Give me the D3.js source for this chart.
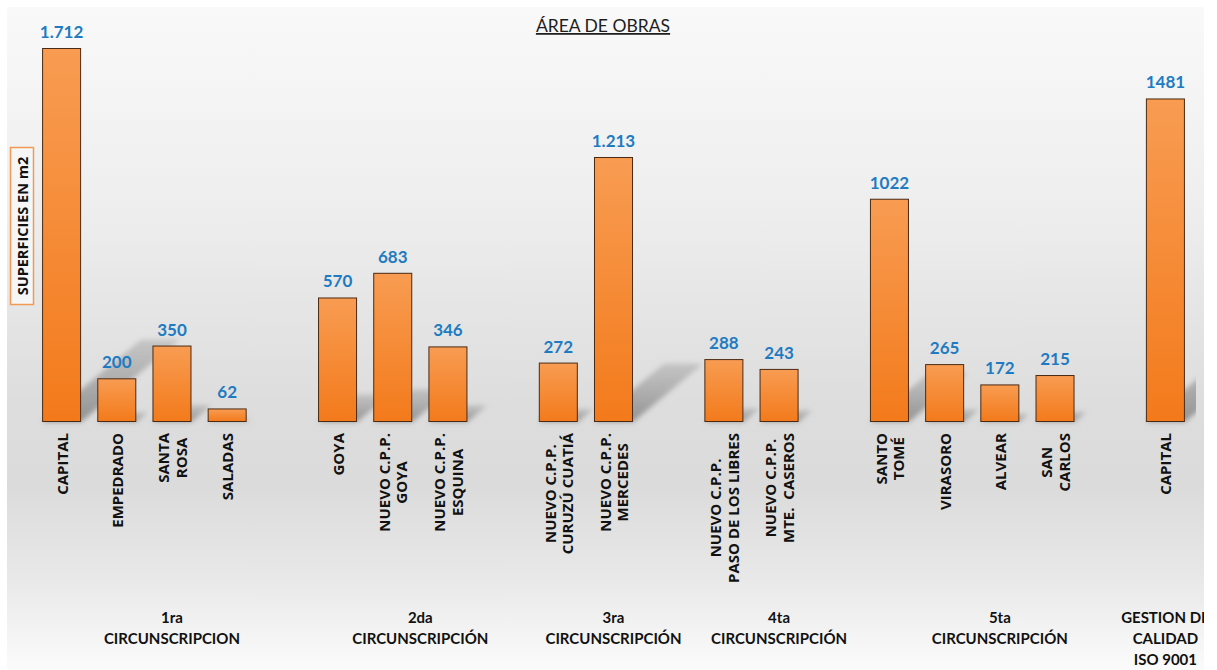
<!DOCTYPE html>
<html>
<head>
<meta charset="utf-8">
<script src="https://cdn.jsdelivr.net/npm/d3@7"></script>
<style>
  html, body { margin: 0; padding: 0; background: #ffffff; }
  svg { display: block; }
</style>
</head>
<body>
<svg id="chart" width="1217" height="670"></svg>
<script>
// ---------------- DATA ----------------
const title = "ÁREA DE OBRAS";
const yAxisLabel = "SUPERFICIES EN m2";
const groups = [
  "1ra\nCIRCUNSCRIPCION",
  "2da\nCIRCUNSCRIPCIÓN",
  "3ra\nCIRCUNSCRIPCIÓN",
  "4ta\nCIRCUNSCRIPCIÓN",
  "5ta\nCIRCUNSCRIPCIÓN",
  "GESTION DE\nCALIDAD\nISO 9001"
];
const categories = [
  "CAPITAL", "EMPEDRADO", "SANTA\nROSA", "SALADAS",
  "GOYA", "NUEVO C.P.P.\nGOYA", "NUEVO C.P.P.\nESQUINA",
  "NUEVO C.P.P.\nCURUZÚ CUATIÁ", "NUEVO C.P.P.\nMERCEDES",
  "NUEVO C.P.P.\nPASO DE LOS LIBRES", "NUEVO C.P.P.\nMTE.  CASEROS",
  "SANTO\nTOMÉ", "VIRASORO", "ALVEAR", "SAN\nCARLOS",
  "CAPITAL"
];
const groupOf = [0,0,0,0, 1,1,1, 2,2, 3,3, 4,4,4,4, 5];
const values = [1712, 200, 350, 62, 570, 683, 346, 272, 1213, 288, 243, 1022, 265, 172, 215, 1481];
const valueLabels = ["1.712","200","350","62","570","683","346","272","1.213","288","243","1022","265","172","215","1481"];

// ---------------- BUILD SLOTS (each group followed by an empty slot) ----------------
const slots = [];
groups.forEach((g, gi) => {
  categories.forEach((c, ci) => { if (groupOf[ci] === gi) slots.push({ key: "c" + ci, ci, gi }); });
  if (gi < groups.length - 1) slots.push({ key: "gap" + gi, ci: null, gi });
});

// ---------------- LAYOUT ----------------
const svg = d3.select("#chart");
const W = 1217, H = 670;
const baseY = 422;

const x = d3.scaleBand().domain(slots.map(s => s.key)).range([34, 1193]).padding(0);
const y = d3.scaleLinear().domain([0, d3.max(values)]).range([baseY, 48]);
const barW = x.bandwidth() * 0.707;

const defs = svg.append("defs");

const bg = defs.append("linearGradient").attr("id", "bgGrad").attr("x1", 0).attr("y1", 0).attr("x2", 0).attr("y2", 1);
[[0, "#f9f9f9"], [0.3, "#eeeeee"], [0.6, "#dddddd"], [0.72, "#dbdbdb"], [0.86, "#e8e8e8"], [1, "#fbfbfb"]]
  .forEach(([o, c]) => bg.append("stop").attr("offset", o).attr("stop-color", c));

const barGrad = defs.append("linearGradient").attr("id", "barGrad").attr("x1", 0).attr("y1", 0).attr("x2", 0).attr("y2", 1);
barGrad.append("stop").attr("offset", 0).attr("stop-color", "#f89c52");
barGrad.append("stop").attr("offset", 1).attr("stop-color", "#f37a1b");

const shGrad = defs.append("linearGradient").attr("id", "shGrad").attr("x1", 0).attr("y1", 1).attr("x2", 0).attr("y2", 0);
shGrad.append("stop").attr("offset", 0).attr("stop-color", "#808080").attr("stop-opacity", 0.8);
shGrad.append("stop").attr("offset", 1).attr("stop-color", "#999999").attr("stop-opacity", 0.4);

defs.append("filter").attr("id", "blur").attr("x", "-20%").attr("y", "-20%").attr("width", "140%").attr("height", "140%")
  .append("feGaussianBlur").attr("stdDeviation", 2.5);

defs.append("clipPath").attr("id", "plotClip").append("rect")
  .attr("x", 7).attr("y", 7).attr("width", 1189).attr("height", 500);

// background
svg.append("rect").attr("x", 7).attr("y", 7).attr("width", 1197).attr("height", H - 7).attr("fill", "url(#bgGrad)");

// title
svg.append("text").attr("x", 603).attr("y", 32).attr("text-anchor", "middle")
  .attr("font-family", "Lato, 'Open Sans', sans-serif").attr("font-size", 17.5).attr("fill", "#1e1e1e")
  .attr("text-decoration", "underline").text(title);

// y axis label box
const yl = svg.append("g");
yl.append("rect").attr("x", 10.5).attr("y", 147.5).attr("width", 23).attr("height", 157)
  .attr("fill", "#f6f6f6").attr("stroke", "#f29a55").attr("stroke-width", 1.5);
yl.append("text").attr("transform", "translate(22.5,226) rotate(-90)").attr("text-anchor", "middle")
  .attr("dominant-baseline", "central")
  .attr("font-family", "'Open Sans', sans-serif").attr("font-weight", 700).attr("font-size", 14.5)
  .attr("fill", "#111").text(yAxisLabel);

const data = categories.map((c, i) => ({ c, v: values[i], lab: valueLabels[i], key: "c" + i }));

// shadows
const shadowK = 0.22, shadowDx = 1.2;
svg.append("g").attr("clip-path", "url(#plotClip)").append("g").attr("filter", "url(#blur)")
  .selectAll("polygon").data(data).join("polygon")
  .attr("points", d => {
    const x0 = x(d.key) + (x.bandwidth() - barW) / 2, x1 = x0 + barW;
    const h = (baseY - y(d.v)) * shadowK, dx = h * shadowDx;
    return [[x0, baseY], [x1, baseY], [x1 + dx, baseY - h], [x0 + dx, baseY - h]].map(p => p.join(",")).join(" ");
  })
  .attr("fill", "url(#shGrad)");

// bars
svg.append("g").selectAll("rect").data(data).join("rect")
  .attr("x", d => x(d.key) + (x.bandwidth() - barW) / 2 + 0.5)
  .attr("y", d => y(d.v) + 0.5)
  .attr("width", barW - 1)
  .attr("height", d => baseY - y(d.v) - 1)
  .attr("fill", "url(#barGrad)")
  .attr("stroke", "#4a2a14").attr("stroke-width", 1);

// value labels
svg.append("g").selectAll("text").data(data).join("text")
  .attr("x", d => x(d.key) + x.bandwidth() / 2)
  .attr("y", d => y(d.v) - 10)
  .attr("text-anchor", "middle")
  .attr("font-family", "Lato, sans-serif").attr("font-weight", 700).attr("font-size", 17)
  .attr("fill", "#1f7bc1")
  .text(d => d.lab);

// category labels (rotated)
const catG = svg.append("g");
data.forEach(d => {
  const lines = d.c.split("\n");
  const g = catG.append("g");
  const L = 17.5;
  const texts = lines.map((ln, i) => g.append("text")
    .attr("x", 0)
    .attr("y", (i - (lines.length - 1) / 2) * L)
    .attr("dominant-baseline", "central")
    .attr("text-anchor", "middle")
    .attr("font-family", "'Open Sans', sans-serif").attr("font-weight", 700).attr("font-size", 15)
    .attr("fill", "#111")
    .attr("xml:space", "preserve")
    .text(ln));
  const maxLen = d3.max(texts, t => t.node().getComputedTextLength());
  g.attr("transform", `translate(${x(d.key) + x.bandwidth() / 2},${433 + maxLen / 2}) rotate(-90)`);
});

// group labels
const grpG = svg.append("g");
groups.forEach((gname, gi) => {
  const ks = slots.filter(s => s.gi === gi);
  const cx = (x(ks[0].key) + x(ks[ks.length - 1].key) + x.bandwidth()) / 2;
  gname.split("\n").forEach((ln, i) => {
    grpG.append("text").attr("x", cx).attr("y", 623 + i * 21)
      .attr("text-anchor", "middle")
      .attr("font-family", "Lato, sans-serif").attr("font-weight", 700).attr("font-size", 15)
      .attr("fill", "#111").text(ln);
  });
});

// right-edge white strip (the chart is cut off there)
svg.append("rect").attr("x", 1204).attr("y", 0).attr("width", W - 1204).attr("height", H).attr("fill", "#ffffff");
</script>
</body>
</html>
